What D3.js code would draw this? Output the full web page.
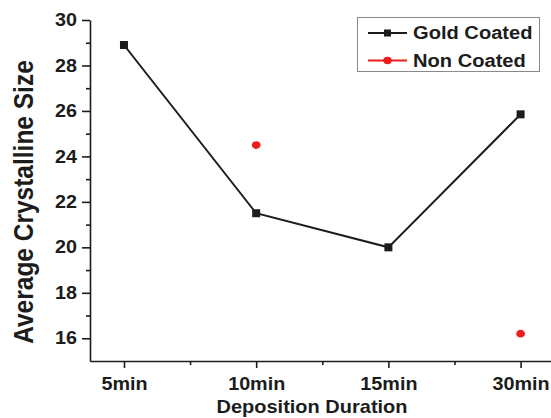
<!DOCTYPE html>
<html>
<head>
<meta charset="utf-8">
<script src="https://cdn.jsdelivr.net/npm/d3@7"></script>
<style>
  html, body { margin: 0; padding: 0; background: #fff; }
  svg { display: block; font-family: "Liberation Sans", Arial, sans-serif; font-weight: bold; }
</style>
</head>
<body>
<svg id="chart" width="551" height="418"></svg>
<script>
const categories = ["5min", "10min", "15min", "30min"];
const goldCoated = [28.9, 21.5, 20.0, 25.85];
const nonCoated = [null, 24.5, null, 16.2];
const yTicks = [16, 18, 20, 22, 24, 26, 28, 30];
const yMinorTicks = [17, 19, 21, 23, 25, 27, 29];
const xMinorTicks = [0.5, 1.5, 2.5];
const seriesNames = ["Gold Coated", "Non Coated"];

const SX = 1.13;
const ink = "#1c1c1c";
const svg = d3.select("#chart");

const x = d3.scaleLinear().domain([-0.257, 3.23]).range([90, 551]);
const y = d3.scaleLinear().domain([15, 30]).range([361, 20]);

// X axis
const xAxis = svg.append("g").attr("transform", `translate(0,${y(15)})`)
  .call(d3.axisBottom(x).tickValues([0, 1, 2, 3]).tickFormat(i => categories[i])
    .tickSizeInner(7).tickSizeOuter(0).tickPadding(5));
xAxis.select(".domain").attr("stroke", ink).attr("stroke-width", 1.6);
xAxis.selectAll(".tick line").attr("stroke", ink).attr("stroke-width", 1.6);
xAxis.selectAll(".tick text").attr("fill", ink).attr("font-size", 17.5)
  .attr("font-family", "Liberation Sans, Arial, sans-serif").attr("font-weight", "bold")
  .attr("transform", `scale(${SX},1)`).attr("dy", "0.95em");
svg.append("g").attr("transform", `translate(0,${y(15)})`)
  .call(d3.axisBottom(x).tickValues(xMinorTicks).tickFormat("").tickSizeInner(4).tickSizeOuter(0))
  .call(g => g.select(".domain").remove())
  .selectAll(".tick line").attr("stroke", ink).attr("stroke-width", 1.6);

// Y axis
const yAxis = svg.append("g").attr("transform", `translate(${x.range()[0]},0)`)
  .call(d3.axisLeft(y).tickValues(yTicks).tickFormat(d3.format("d"))
    .tickSizeInner(8).tickSizeOuter(0).tickPadding(4));
yAxis.select(".domain").attr("stroke", ink).attr("stroke-width", 1.6);
yAxis.selectAll(".tick line").attr("stroke", ink).attr("stroke-width", 1.6);
yAxis.selectAll(".tick text").attr("fill", ink).attr("font-size", 17.5)
  .attr("font-family", "Liberation Sans, Arial, sans-serif").attr("font-weight", "bold")
  .attr("transform", `scale(${SX},1)`).attr("x", -11.5);
svg.append("g").attr("transform", `translate(${x.range()[0]},0)`)
  .call(d3.axisLeft(y).tickValues(yMinorTicks).tickFormat("").tickSizeInner(4).tickSizeOuter(0))
  .call(g => g.select(".domain").remove())
  .selectAll(".tick line").attr("stroke", ink).attr("stroke-width", 1.6);

// Axis titles
svg.append("text")
  .attr("transform", `translate(312,413) scale(${SX},1)`)
  .attr("text-anchor", "middle").attr("font-size", 17.7).attr("fill", ink)
  .text("Deposition Duration");
svg.append("text")
  .attr("transform", `translate(33,202) scale(${SX},1) rotate(-90)`)
  .attr("text-anchor", "middle").attr("font-size", 24.5).attr("fill", ink)
  .text("Average Crystalline Size");

// Gold coated line + squares
const goldPts = goldCoated.map((v, i) => ({i, v}));
svg.append("path").datum(goldPts)
  .attr("fill", "none").attr("stroke", ink).attr("stroke-width", 2)
  .attr("d", d3.line().x(d => x(d.i)).y(d => y(d.v)));
svg.append("g").selectAll("rect").data(goldPts).join("rect")
  .attr("x", d => x(d.i) - 4).attr("y", d => y(d.v) - 4)
  .attr("width", 8).attr("height", 8).attr("fill", ink);

// Non coated points
const nonPts = nonCoated.map((v, i) => ({i, v})).filter(d => d.v != null);
svg.append("g").selectAll("ellipse").data(nonPts).join("ellipse")
  .attr("cx", d => x(d.i)).attr("cy", d => y(d.v))
  .attr("rx", 4.4).attr("ry", 3.9).attr("fill", "#ee1c1c");

// Legend
const lg = svg.append("g");
lg.append("rect").attr("x", 357.5).attr("y", 17.5).attr("width", 182).attr("height", 54)
  .attr("fill", "#fff").attr("stroke", "#8a8a8a").attr("stroke-width", 1);
const rows = [{name: seriesNames[0], color: ink, shape: "sq", cy: 33},
              {name: seriesNames[1], color: "#ee1c1c", shape: "ci", cy: 60.5}];
rows.forEach(r => {
  lg.append("line").attr("x1", 368).attr("x2", 407).attr("y1", r.cy).attr("y2", r.cy)
    .attr("stroke", r.color).attr("stroke-width", 2);
  if (r.shape === "sq") {
    lg.append("rect").attr("x", 384).attr("y", r.cy - 3.5).attr("width", 7).attr("height", 7).attr("fill", r.color);
  } else {
    lg.append("ellipse").attr("cx", 387.5).attr("cy", r.cy).attr("rx", 4.2).attr("ry", 3.7).attr("fill", r.color);
  }
  lg.append("text").attr("transform", `translate(413,${r.cy + 6.3}) scale(${SX},1)`)
    .attr("font-size", 17.8).attr("fill", ink).text(r.name);
});
</script>
</body>
</html>
